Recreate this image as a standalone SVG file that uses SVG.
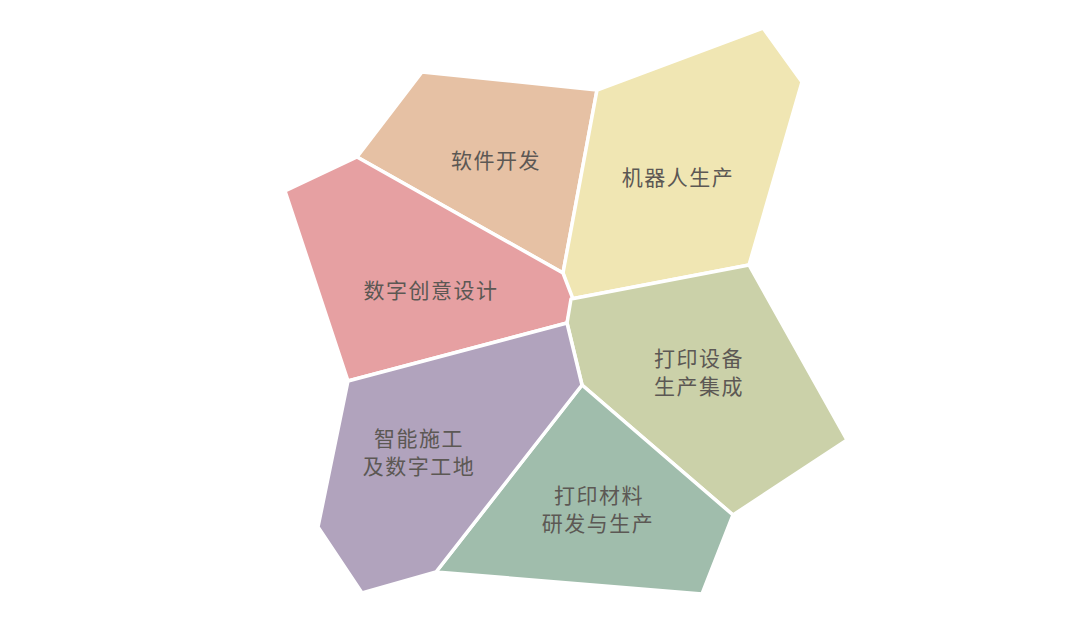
<svg xmlns="http://www.w3.org/2000/svg" width="1080" height="635" viewBox="0 0 1080 635">
<style>
.cell{stroke:#ffffff;stroke-width:3.5;stroke-linejoin:round}
.lbl{font-family:"Noto Sans CJK SC","Noto Sans",sans-serif;font-size:21px;letter-spacing:1.5px;fill:#5c5854;text-anchor:middle}
</style>
<rect width="1080" height="635" fill="#ffffff"/>
<g id="software">
<polygon class="cell" fill="#e6c1a4" points="422,72 597,90 563,273 357,157"/>
<text class="lbl" x="496" y="168">软件开发</text>
</g>
<g id="robot">
<polygon class="cell" fill="#f0e6b3" points="597,90 763,28 802,82 749,265 571,299 563,273"/>
<text class="lbl" x="678" y="185">机器人生产</text>
</g>
<g id="design">
<polygon class="cell" fill="#e6a0a2" points="357,157 285,191 348,381 567,323 573,299 563,273"/>
<text class="lbl" x="431" y="298">数字创意设计</text>
</g>
<g id="equipment">
<polygon class="cell" fill="#cbd1a9" points="571,299 749,265 847,440 733,515 582,385 567,323"/>
<text class="lbl" x="699" y="366">打印设备</text>
<text class="lbl" x="699" y="394">生产集成</text>
</g>
<g id="material">
<polygon class="cell" fill="#a0bdac" points="582,385 733,515 702,594 436,572"/>
<text class="lbl" x="599" y="503">打印材料</text>
<text class="lbl" x="598" y="531">研发与生产</text>
</g>
<g id="construction">
<polygon class="cell" fill="#b1a3bd" points="348,381 567,323 582,385 436,572 362,593 318,527"/>
<text class="lbl" x="419" y="446">智能施工</text>
<text class="lbl" x="419" y="474">及数字工地</text>
</g>
<g id="connectors"></g>
</svg>
